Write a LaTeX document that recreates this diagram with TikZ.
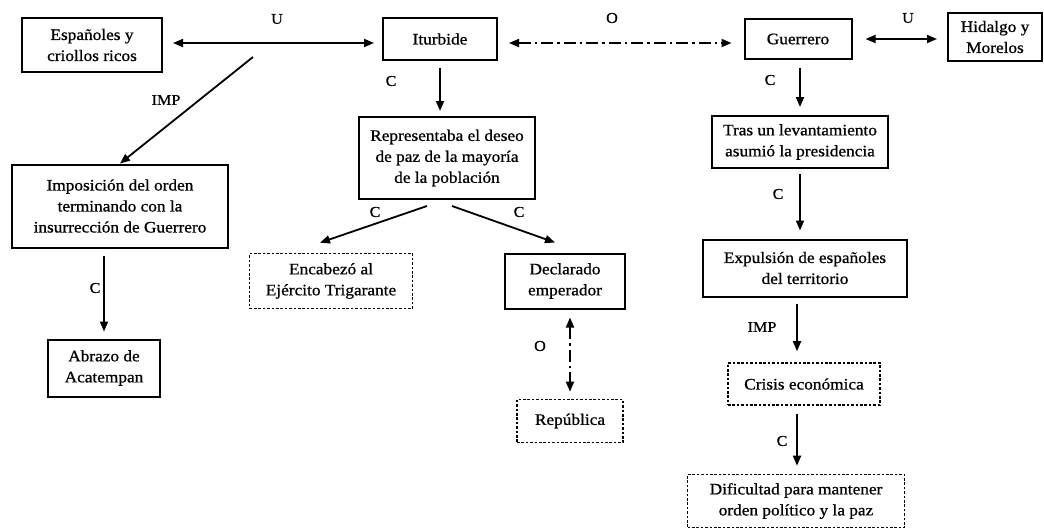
\documentclass[tikz,border=0pt]{standalone}
\usepackage{fontspec}
\setmainfont[FakeStretch=1.08,FakeBold=0.8]{Liberation Serif}
\usetikzlibrary{arrows.meta,calc}
\begin{document}
\begin{tikzpicture}[x=1pt,y=-1pt,
  box/.style={draw,line width=2pt,align=center,inner sep=0pt,
    font=\fontsize{16}{21}\selectfont},
  dbox/.style={box,line width=1.6pt,dash pattern=on 2.6pt off 1.8pt},
  tip/.tip={Triangle[length=10pt,width=8pt]},
  conn/.style={line width=1.8pt,-tip},
  both/.style={line width=1.8pt,tip-tip},
  dashdot/.style={dash pattern=on 12pt off 4pt on 2.5pt off 4pt},
  lbl/.style={font=\fontsize{15}{17}\selectfont}]
\useasboundingbox (0,0) rectangle (1044,530);

% top row
\node[box,minimum width=140pt,minimum height=54pt] (esp) at (92,45) {Españoles y\\criollos ricos};
\node[box,minimum width=114pt,minimum height=42pt] (itu) at (440,39) {Iturbide};
\node[box,minimum width=107pt,minimum height=40pt] (gue) at (798,39) {Guerrero};
\node[box,minimum width=94pt,minimum height=48pt] (hid) at (995,37) {Hidalgo y\\Morelos};

% second level
\node[box,minimum width=216pt,minimum height=83pt] (imp) at (120,206) {Imposición del orden\\terminando con la\\insurrección de Guerrero};
\node[box,minimum width=176pt,minimum height=82pt] (rep) at (447,158) {Representaba el deseo\\de paz de la mayoría\\de la población};
\node[box,minimum width=176pt,minimum height=52pt] (tras) at (800,142) {Tras un levantamiento\\asumió la presidencia};

% lower levels
\node[box,minimum width=112pt,minimum height=57pt] (abr) at (104,368) {Abrazo de\\Acatempan};
\node[dbox,minimum width=163pt,minimum height=55pt] (enc) at (331,281) {Encabezó al\\Ejército Trigarante};
\node[box,minimum width=120pt,minimum height=55pt] (dec) at (565,281) {Declarado\\emperador};
\node[dbox,minimum width=106pt,minimum height=43pt] (repu) at (570,421) {República};
\node[box,minimum width=204pt,minimum height=57pt] (exp) at (805,268) {Expulsión de españoles\\del territorio};
\node[dbox,minimum width=152pt,minimum height=42pt] (cri) at (804,384) {Crisis económica};
\node[dbox,minimum width=217pt,minimum height=53pt] (dif) at (796,501) {Dificultad para mantener\\orden político y la paz};

% top row relations
\coordinate (uy) at (0,43);
\draw[both,shorten <=10pt,shorten >=8pt] (esp.east |- uy) -- (itu.west |- uy);
\node[lbl] (lu1) at (277,19) {U};
\coordinate (impstart) at (253,57);
\draw[conn] (impstart) -- (imp.north);
\node[lbl] (limp1) at (166,100) {IMP};

\draw[both,dashdot,shorten <=11pt,shorten >=12pt] (itu.east |- uy) -- (gue.west |- uy);
\node[lbl] (lo1) at (612,18) {O};

\draw[both,shorten <=13pt,shorten >=10pt] (gue.east) -- (hid.west |- gue.east);
\node[lbl] (lu2) at (908,18) {U};

% Iturbide branch
\draw[conn,shorten <=7pt,shorten >=5pt] (itu.south) -- (itu.south |- rep.north);
\node[lbl] (lc1) at (391,81) {C};
\coordinate (rs1) at ($(rep.south)+(-20,6)$);
\coordinate (rs2) at ($(rep.south)+(5,6)$);
\coordinate (et) at ($(enc.north)+(-11,-10)$);
\coordinate (dt) at ($(dec.north)+(-10,-10)$);
\draw[conn] (rs1) -- (et);
\node[lbl] (lc2) at (375,212) {C};
\draw[conn] (rs2) -- (dt);
\node[lbl] (lc3) at (519,212) {C};
\draw[both,dashdot,shorten <=8pt,shorten >=7pt] (dec.south -| repu.north) -- (repu.north);
\node[lbl] (lo2) at (540,346) {O};

% Imposición branch
\draw[conn,shorten <=7pt,shorten >=7pt] (imp.south -| abr.north) -- (abr.north);
\node[lbl] (lc4) at (95,288) {C};

% Guerrero branch
\draw[conn,shorten <=8pt,shorten >=8pt] (gue.south -| tras.north) -- (tras.north);
\node[lbl] (lc5) at (770,80) {C};
\draw[conn,shorten <=5pt,shorten >=8pt] (tras.south) -- (tras.south |- exp.north);
\node[lbl] (lc6) at (778,194) {C};
\coordinate (xs) at ($(exp.south)+(-8,0)$);
\draw[conn,shorten <=6pt,shorten >=11pt] (xs) -- (xs |- cri.north);
\node[lbl] (limp2) at (762,327) {IMP};
\coordinate (cs) at ($(cri.south)+(-7,0)$);
\draw[conn,shorten <=8pt,shorten >=8pt] (cs) -- (cs |- dif.north);
\node[lbl] (lc7) at (782,441) {C};
\end{tikzpicture}
\end{document}
